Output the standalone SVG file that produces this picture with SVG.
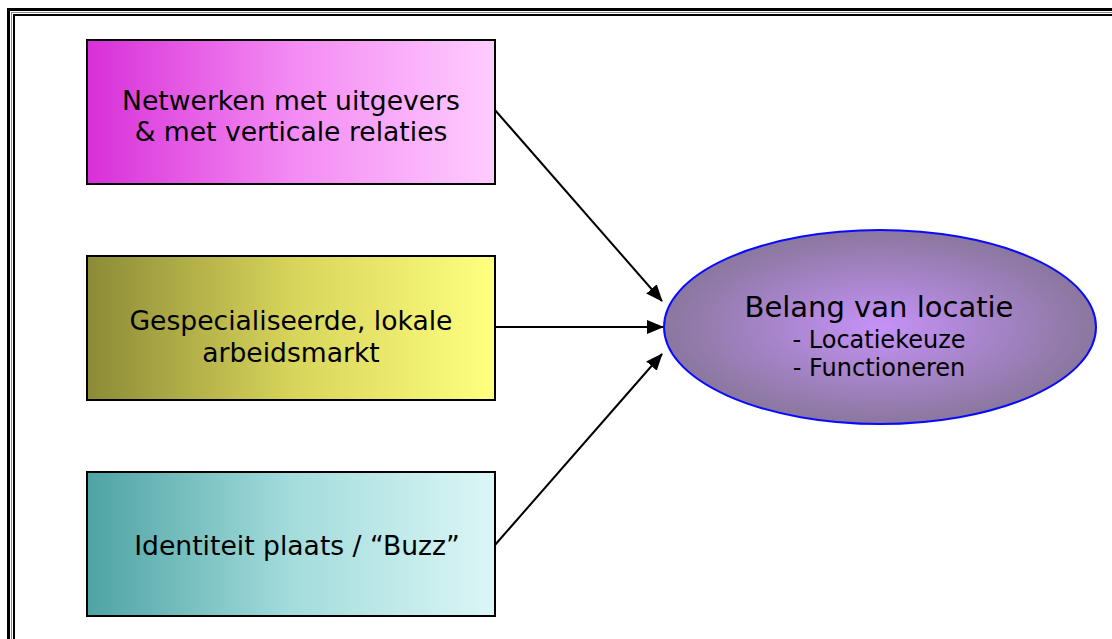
<svg xmlns="http://www.w3.org/2000/svg" width="1112" height="639" viewBox="0 0 1112 639">
<defs>
<linearGradient id="g1" x1="0" y1="0" x2="1" y2="0"><stop offset="0" stop-color="#d82fd8"/><stop offset="0.5" stop-color="#f38af3"/><stop offset="1" stop-color="#ffccff"/></linearGradient>
<linearGradient id="g2" x1="0" y1="0" x2="1" y2="0"><stop offset="0" stop-color="#8c8a36"/><stop offset="0.5" stop-color="#d6d45a"/><stop offset="1" stop-color="#ffff80"/></linearGradient>
<linearGradient id="g3" x1="0" y1="0" x2="1" y2="0"><stop offset="0" stop-color="#4ea3a3"/><stop offset="0.5" stop-color="#a3dcdc"/><stop offset="1" stop-color="#dcf6f6"/></linearGradient>
<radialGradient id="g4" cx="0.5" cy="0.5" r="0.5"><stop offset="0" stop-color="#c592f7"/><stop offset="1" stop-color="#8a779e"/></radialGradient>
<marker id="arr" markerWidth="17" markerHeight="14" refX="16" refY="7" orient="auto" markerUnits="userSpaceOnUse"><path d="M0,0 L17,7 L0,14 Z" fill="#000"/></marker>
<style>
.box{stroke:#000;stroke-width:2}
.t{font-family:"DejaVu Sans",Verdana,sans-serif;fill:#000;text-anchor:middle}
.c line{stroke:#000;stroke-width:2;marker-end:url(#arr)}
</style>
</defs>
<rect width="1112" height="639" fill="#fff"/>
<rect x="8.5" y="9.5" width="1120" height="650" fill="none" stroke="#000" stroke-width="3"/>
<rect x="11.5" y="12.5" width="1114" height="640" fill="none" stroke="#888" stroke-width="1"/>
<rect x="14" y="15" width="1110" height="640" fill="none" stroke="#000" stroke-width="2"/>
<g id="n1"><rect class="box" x="87" y="40" width="408" height="144" fill="url(#g1)"/>
<text class="t" x="291" y="110" font-size="26.6">Netwerken met uitgevers</text>
<text class="t" x="291" y="141" font-size="26.6">&amp; met verticale relaties</text></g>
<g id="n2"><rect class="box" x="87" y="256" width="408" height="144" fill="url(#g2)"/>
<text class="t" x="291" y="330" font-size="26.6">Gespecialiseerde, lokale</text>
<text class="t" x="291" y="362" font-size="26.6">arbeidsmarkt</text></g>
<g id="n3"><rect class="box" x="87" y="472" width="408" height="144" fill="url(#g3)"/>
<text class="t" x="297" y="555" font-size="26.6">Identiteit plaats / “Buzz”</text></g>
<g id="n4"><ellipse cx="880" cy="327" rx="216" ry="97" fill="url(#g4)" stroke="#0a0aff" stroke-width="2"/>
<text class="t" x="879" y="317" font-size="29">Belang van locatie</text>
<text class="t" x="879" y="348" font-size="24">- Locatiekeuze</text>
<text class="t" x="879" y="376" font-size="24">- Functioneren</text></g>
<g class="c">
<line x1="495" y1="110" x2="662" y2="301"/>
<line x1="495" y1="327" x2="663" y2="327"/>
<line x1="495" y1="545" x2="662" y2="354"/>
</g>
</svg>
